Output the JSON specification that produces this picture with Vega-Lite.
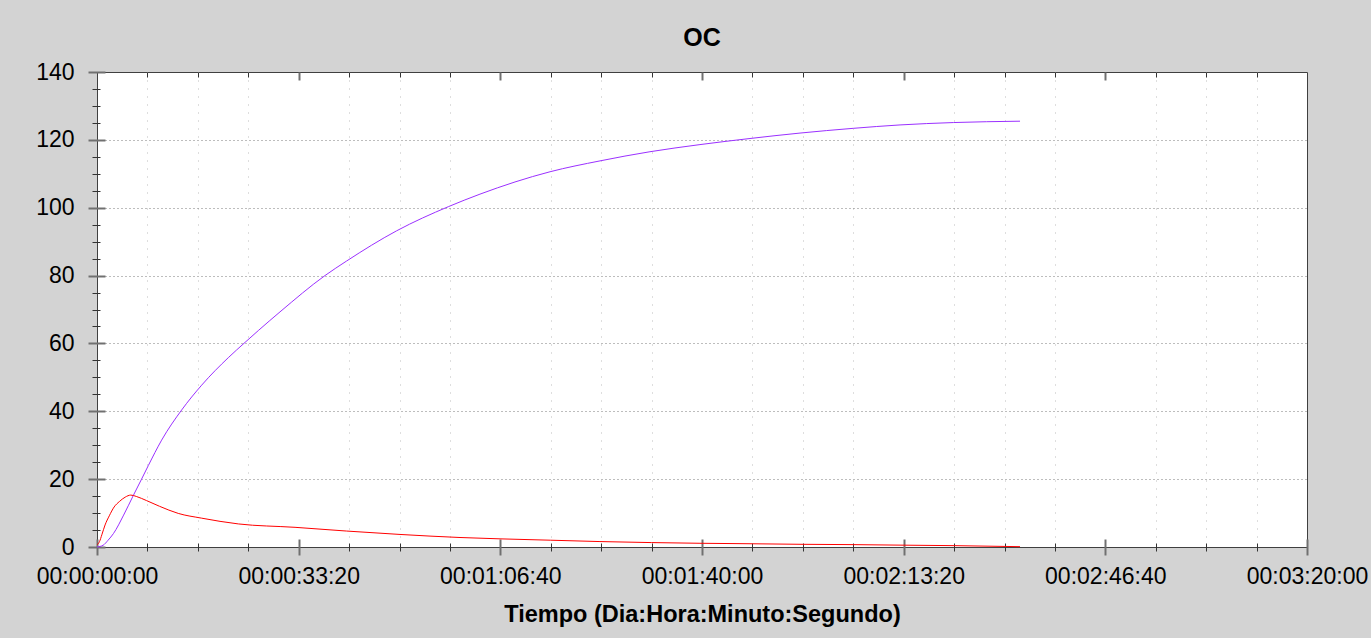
{
  "$schema": "https://vega.github.io/schema/vega-lite/v6.json",
  "autosize": {"type": "none"},
  "padding": {"left": 97, "top": 72, "right": 64, "bottom": 91},
  "width": 1210,
  "height": 475,
  "background": "#d3d3d3",
  "title": {"text": "OC", "fontSize": 25, "fontWeight": "bold", "font": "Liberation Sans", "color": "#000000", "anchor": "middle", "offset": 10},
  "config": {
    "view": {"stroke": "#404040", "strokeWidth": 1, "fill": "#ffffff"},
    "axis": {"labelFont": "Liberation Sans", "titleFont": "Liberation Sans", "labelColor": "#000000", "titleColor": "#000000", "zindex": 0}
  },
  "data": {"values": [
    {"t": 0, "v": 0, "s": "morado"},
    {"t": 60, "v": 0.5, "s": "morado"},
    {"t": 110, "v": 2.0, "s": "morado"},
    {"t": 164, "v": 4.0, "s": "morado"},
    {"t": 264, "v": 9.4, "s": "morado"},
    {"t": 362, "v": 15.3, "s": "morado"},
    {"t": 442, "v": 20.0, "s": "morado"},
    {"t": 509, "v": 24.0, "s": "morado"},
    {"t": 641, "v": 31.5, "s": "morado"},
    {"t": 840, "v": 40.4, "s": "morado"},
    {"t": 1038, "v": 47.7, "s": "morado"},
    {"t": 1302, "v": 55.8, "s": "morado"},
    {"t": 1468, "v": 60.3, "s": "morado"},
    {"t": 1600, "v": 63.8, "s": "morado"},
    {"t": 1815, "v": 69.3, "s": "morado"},
    {"t": 2261, "v": 80.0, "s": "morado"},
    {"t": 2476, "v": 84.3, "s": "morado"},
    {"t": 2972, "v": 93.2, "s": "morado"},
    {"t": 3484, "v": 100.3, "s": "morado"},
    {"t": 3798, "v": 104.0, "s": "morado"},
    {"t": 4493, "v": 110.6, "s": "morado"},
    {"t": 4988, "v": 113.8, "s": "morado"},
    {"t": 5484, "v": 116.5, "s": "morado"},
    {"t": 5980, "v": 118.6, "s": "morado"},
    {"t": 6476, "v": 120.4, "s": "morado"},
    {"t": 6972, "v": 122.0, "s": "morado"},
    {"t": 7501, "v": 123.4, "s": "morado"},
    {"t": 7964, "v": 124.4, "s": "morado"},
    {"t": 8493, "v": 125.1, "s": "morado"},
    {"t": 9154, "v": 125.5, "s": "morado"},
    {"t": 0, "v": 0.6, "s": "rojo"},
    {"t": 25, "v": 1.6, "s": "rojo"},
    {"t": 48, "v": 3.6, "s": "rojo"},
    {"t": 80, "v": 6.5, "s": "rojo"},
    {"t": 122, "v": 9.2, "s": "rojo"},
    {"t": 170, "v": 11.8, "s": "rojo"},
    {"t": 222, "v": 13.4, "s": "rojo"},
    {"t": 280, "v": 14.7, "s": "rojo"},
    {"t": 335, "v": 15.3, "s": "rojo"},
    {"t": 390, "v": 14.9, "s": "rojo"},
    {"t": 490, "v": 13.7, "s": "rojo"},
    {"t": 620, "v": 12.0, "s": "rojo"},
    {"t": 806, "v": 9.9, "s": "rojo"},
    {"t": 1038, "v": 8.5, "s": "rojo"},
    {"t": 1402, "v": 6.8, "s": "rojo"},
    {"t": 1964, "v": 5.8, "s": "rojo"},
    {"t": 2476, "v": 4.7, "s": "rojo"},
    {"t": 3005, "v": 3.7, "s": "rojo"},
    {"t": 3600, "v": 2.8, "s": "rojo"},
    {"t": 3997, "v": 2.4, "s": "rojo"},
    {"t": 4500, "v": 2.0, "s": "rojo"},
    {"t": 4988, "v": 1.6, "s": "rojo"},
    {"t": 5500, "v": 1.3, "s": "rojo"},
    {"t": 5980, "v": 1.1, "s": "rojo"},
    {"t": 6500, "v": 0.95, "s": "rojo"},
    {"t": 6972, "v": 0.8, "s": "rojo"},
    {"t": 7500, "v": 0.7, "s": "rojo"},
    {"t": 7964, "v": 0.55, "s": "rojo"},
    {"t": 8500, "v": 0.4, "s": "rojo"},
    {"t": 9154, "v": 0.1, "s": "rojo"}
  ]},
  "resolve": {"axis": {"x": "independent", "y": "independent"}},
  "layer": [
    {
      "mark": {"type": "line", "strokeWidth": 1, "interpolate": "monotone"},
      "encoding": {
        "x": {"field": "t", "type": "quantitative", "scale": {"domain": [0, 12000], "nice": false, "zero": false},
          "axis": {"orient": "bottom", "offset": -8, "values": [0, 2000, 4000, 6000, 8000, 10000, 12000],
            "tickSize": 16, "tickColor": "#707070", "tickWidth": 2, "domain": false, "grid": false,
            "labelExpr": "'00:' + utcFormat(datum.value * 1000, '%H:%M:%S')",
            "labelFontSize": 23, "labelPadding": 10, "labelFlush": false, "labelOverlap": false,
            "title": "Tiempo (Dia:Hora:Minuto:Segundo)", "titleFontSize": 23.5, "titleFontWeight": "bold", "titlePadding": 14}},
        "y": {"field": "v", "type": "quantitative", "scale": {"domain": [0, 140], "nice": false},
          "axis": {"orient": "left", "offset": -8, "values": [0, 20, 40, 60, 80, 100, 120, 140],
            "tickSize": 17, "tickColor": "#707070", "tickWidth": 2, "domain": false, "grid": false,
            "labelFontSize": 23, "labelPadding": 14, "title": null}},
        "color": {"field": "s", "type": "nominal", "scale": {"domain": ["morado", "rojo"], "range": ["#9b30ff", "#ff0000"]}, "legend": null}
      }
    },
    {
      "mark": {"type": "point", "opacity": 0},
      "encoding": {
        "x": {"field": "t", "type": "quantitative",
          "axis": {"orient": "bottom", "offset": -4, "values": [500, 1000, 1500, 2500, 3000, 3500, 4500, 5000, 5500, 6500, 7000, 7500, 8500, 9000, 9500, 10500, 11000, 11500],
            "tickSize": 8, "tickColor": "#333333", "domain": false, "grid": false, "labels": false, "title": null}},
        "y": {"field": "v", "type": "quantitative",
          "axis": {"orient": "left", "offset": -3, "values": [5, 10, 15, 25, 30, 35, 45, 50, 55, 65, 70, 75, 85, 90, 95, 105, 110, 115, 125, 130, 135],
            "tickSize": 8, "tickColor": "#333333", "domain": false, "grid": false, "labels": false, "title": null}}
      }
    },
    {
      "mark": {"type": "point", "opacity": 0},
      "encoding": {
        "x": {"field": "t", "type": "quantitative",
          "axis": {"orient": "bottom", "values": [500, 1000, 1500, 2500, 3000, 3500, 4500, 5000, 5500, 6500, 7000, 7500, 8500, 9000, 9500, 10500, 11000, 11500],
            "ticks": false, "domain": false, "labels": false, "title": null,
            "grid": true, "gridColor": "#bdbdbd", "gridDash": [1, 7], "gridWidth": 1, "gridOpacity": 1}},
        "y": {"field": "v", "type": "quantitative",
          "axis": {"orient": "left", "values": [20, 40, 60, 80, 100, 120],
            "ticks": false, "domain": false, "labels": false, "title": null,
            "grid": true, "gridColor": "#7a7a7a", "gridDash": [1, 3], "gridWidth": 1, "gridOpacity": 1}}
      }
    },
    {
      "mark": {"type": "point", "opacity": 0},
      "encoding": {
        "x": {"field": "t", "type": "quantitative",
          "axis": {"orient": "top", "offset": -8, "values": [2000, 4000, 6000, 8000, 10000],
            "tickSize": 8, "tickColor": "#707070", "tickWidth": 2, "domain": false, "grid": false, "labels": false, "title": null}},
        "y": {"field": "v", "type": "quantitative", "axis": null}
      }
    },
    {
      "mark": {"type": "point", "opacity": 0},
      "encoding": {
        "x": {"field": "t", "type": "quantitative",
          "axis": {"orient": "top", "offset": -5, "values": [500, 1000, 1500, 2500, 3000, 3500, 4500, 5000, 5500, 6500, 7000, 7500, 8500, 9000, 9500, 10500, 11000, 11500],
            "tickSize": 5, "tickColor": "#333333", "domain": false, "grid": false, "labels": false, "title": null}},
        "y": {"field": "v", "type": "quantitative", "axis": null}
      }
    }
  ]
}
